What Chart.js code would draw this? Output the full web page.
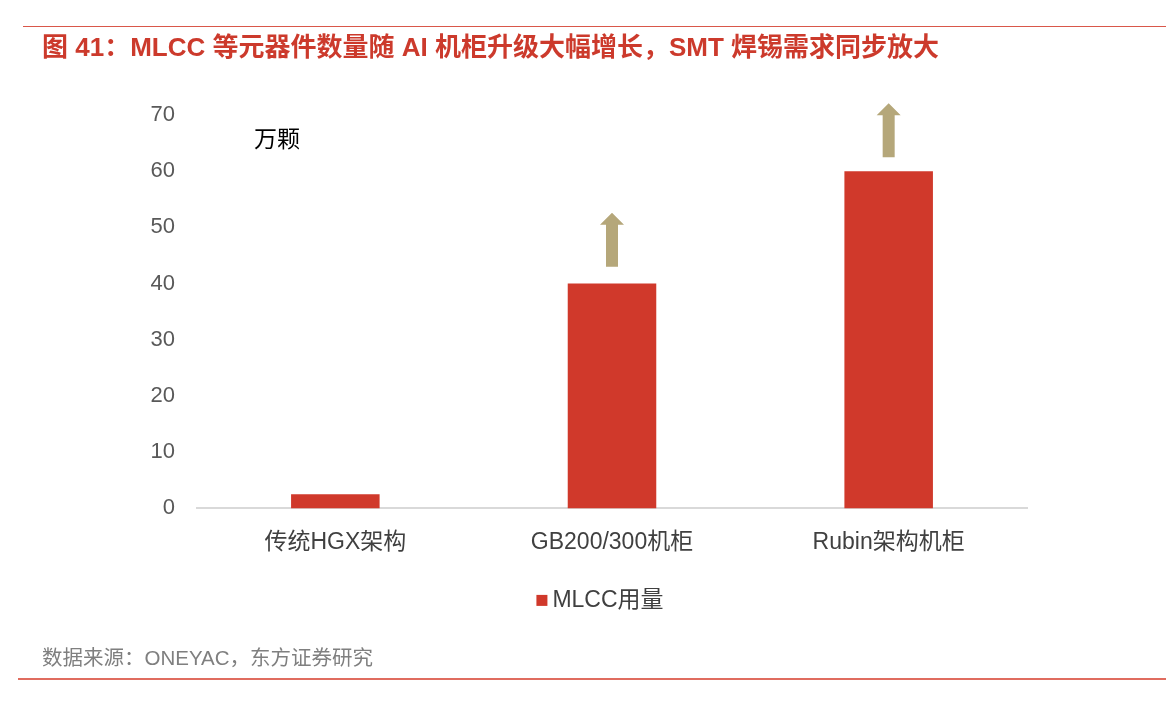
<!DOCTYPE html>
<html>
<head>
<meta charset="utf-8">
<script src="https://cdn.jsdelivr.net/npm/chart.js@4.4.1/dist/chart.umd.min.js"></script>
<style>
  body { margin: 0; width: 1166px; height: 702px; background: #fff; position: relative; overflow: hidden;
         font-family: "Liberation Sans", "Noto Sans CJK SC", sans-serif; }
  .topline { position: absolute; left: 23px; right: 0; top: 26px; height: 1px; background: #d9574a; }
  .title { position: absolute; left: 42px; top: 32px; line-height: 30px; font-size: 26px; font-weight: bold; color: #cc3a2c; white-space: nowrap; }
  .source { position: absolute; left: 42px; top: 646px; line-height: 24px; font-size: 20.5px; color: #7f7f7f; }
  .bottomline { position: absolute; left: 18px; right: 0; top: 678px; height: 2px; background: #e06c5f; }
  .wrap { position: absolute; left: 0; top: 0; width: 1166px; height: 702px; }
</style>
</head>
<body>
<div class="wrap"><canvas id="chart"></canvas></div>
<div class="topline"></div>
<div class="title">图 41：MLCC 等元器件数量随 AI 机柜升级大幅增长，SMT 焊锡需求同步放大</div>
<div class="source">数据来源：ONEYAC，东方证券研究</div>
<div class="bottomline"></div>

<script>
const categories = ["传统HGX架构", "GB200/300机柜", "Rubin架构机柜"];
const mlccUsage = [2.5, 40, 60];
const arrowFrom = [null, 43, 62.5];
const arrowTo = [null, 52.6, 72.1];
const unitLabel = "万颗";
const barColour = "#d0392b";
const arrowColour = "#b5a77a";
const fontFamily = '"Liberation Sans", "Noto Sans CJK SC", sans-serif';

// up arrows above the bars, unit label and legend
const extrasPlugin = {
  id: 'extras',
  afterDatasetsDraw(chart) {
    const ctx = chart.ctx;
    const x = chart.scales.x;
    const y = chart.scales.y;
    const area = chart.chartArea;
    ctx.save();
    ctx.fillStyle = arrowColour;
    arrowFrom.forEach((from, i) => {
      if (from === null) return;
      const cx = x.getPixelForValue(i);
      const yBottom = y.getPixelForValue(from);
      const yTop = y.getPixelForValue(arrowTo[i]);
      const headH = 12;
      ctx.beginPath();
      ctx.moveTo(cx - 6, yBottom);
      ctx.lineTo(cx - 6, yTop + headH);
      ctx.lineTo(cx - 12, yTop + headH);
      ctx.lineTo(cx, yTop);
      ctx.lineTo(cx + 12, yTop + headH);
      ctx.lineTo(cx + 6, yTop + headH);
      ctx.lineTo(cx + 6, yBottom);
      ctx.closePath();
      ctx.fill();
    });

    ctx.fillStyle = "#000";
    ctx.font = "23px " + fontFamily;
    ctx.textBaseline = "middle";
    ctx.textAlign = "left";
    ctx.fillText(unitLabel, area.left + 57, y.getPixelForValue(65.4));

    // legend
    const ds = chart.data.datasets[0];
    const ly = area.bottom + 92;
    ctx.font = "23px " + fontFamily;
    const tw = ctx.measureText(ds.label).width;
    const total = 11 + 5 + tw;
    const lx = area.left + 403 - total / 2;
    ctx.fillStyle = ds.backgroundColor;
    ctx.fillRect(lx, ly - 5.5, 11, 11);
    ctx.fillStyle = "#404040";
    ctx.fillText(ds.label, lx + 16, ly);
    ctx.restore();
  }
};

new Chart(document.getElementById("chart"), {
  type: 'bar',
  data: {
    labels: categories,
    datasets: [{
      label: 'MLCC用量',
      data: mlccUsage,
      backgroundColor: barColour,
      categoryPercentage: 1,
      barPercentage: 0.32
    }]
  },
  plugins: [extrasPlugin],
  options: {
    responsive: true,
    maintainAspectRatio: false,
    animation: false,
    layout: { padding: { top: 115, right: 139, left: 0, bottom: 134 } },
    plugins: {
      tooltip: { enabled: false },
      legend: { display: false }
    },
    scales: {
      x: {
        grid: { display: false },
        border: { color: '#d9d9d9', width: 2 },
        ticks: { color: '#404040', padding: 12, font: { size: 23, family: fontFamily } }
      },
      y: {
        min: 0,
        max: 70,
        afterFit(scale) { scale.width = 197; },
        grid: { display: false, drawTicks: false },
        border: { display: false },
        ticks: { stepSize: 10, color: '#595959', padding: 22, font: { size: 22, family: fontFamily } }
      }
    }
  }
});
</script>
</body>
</html>
